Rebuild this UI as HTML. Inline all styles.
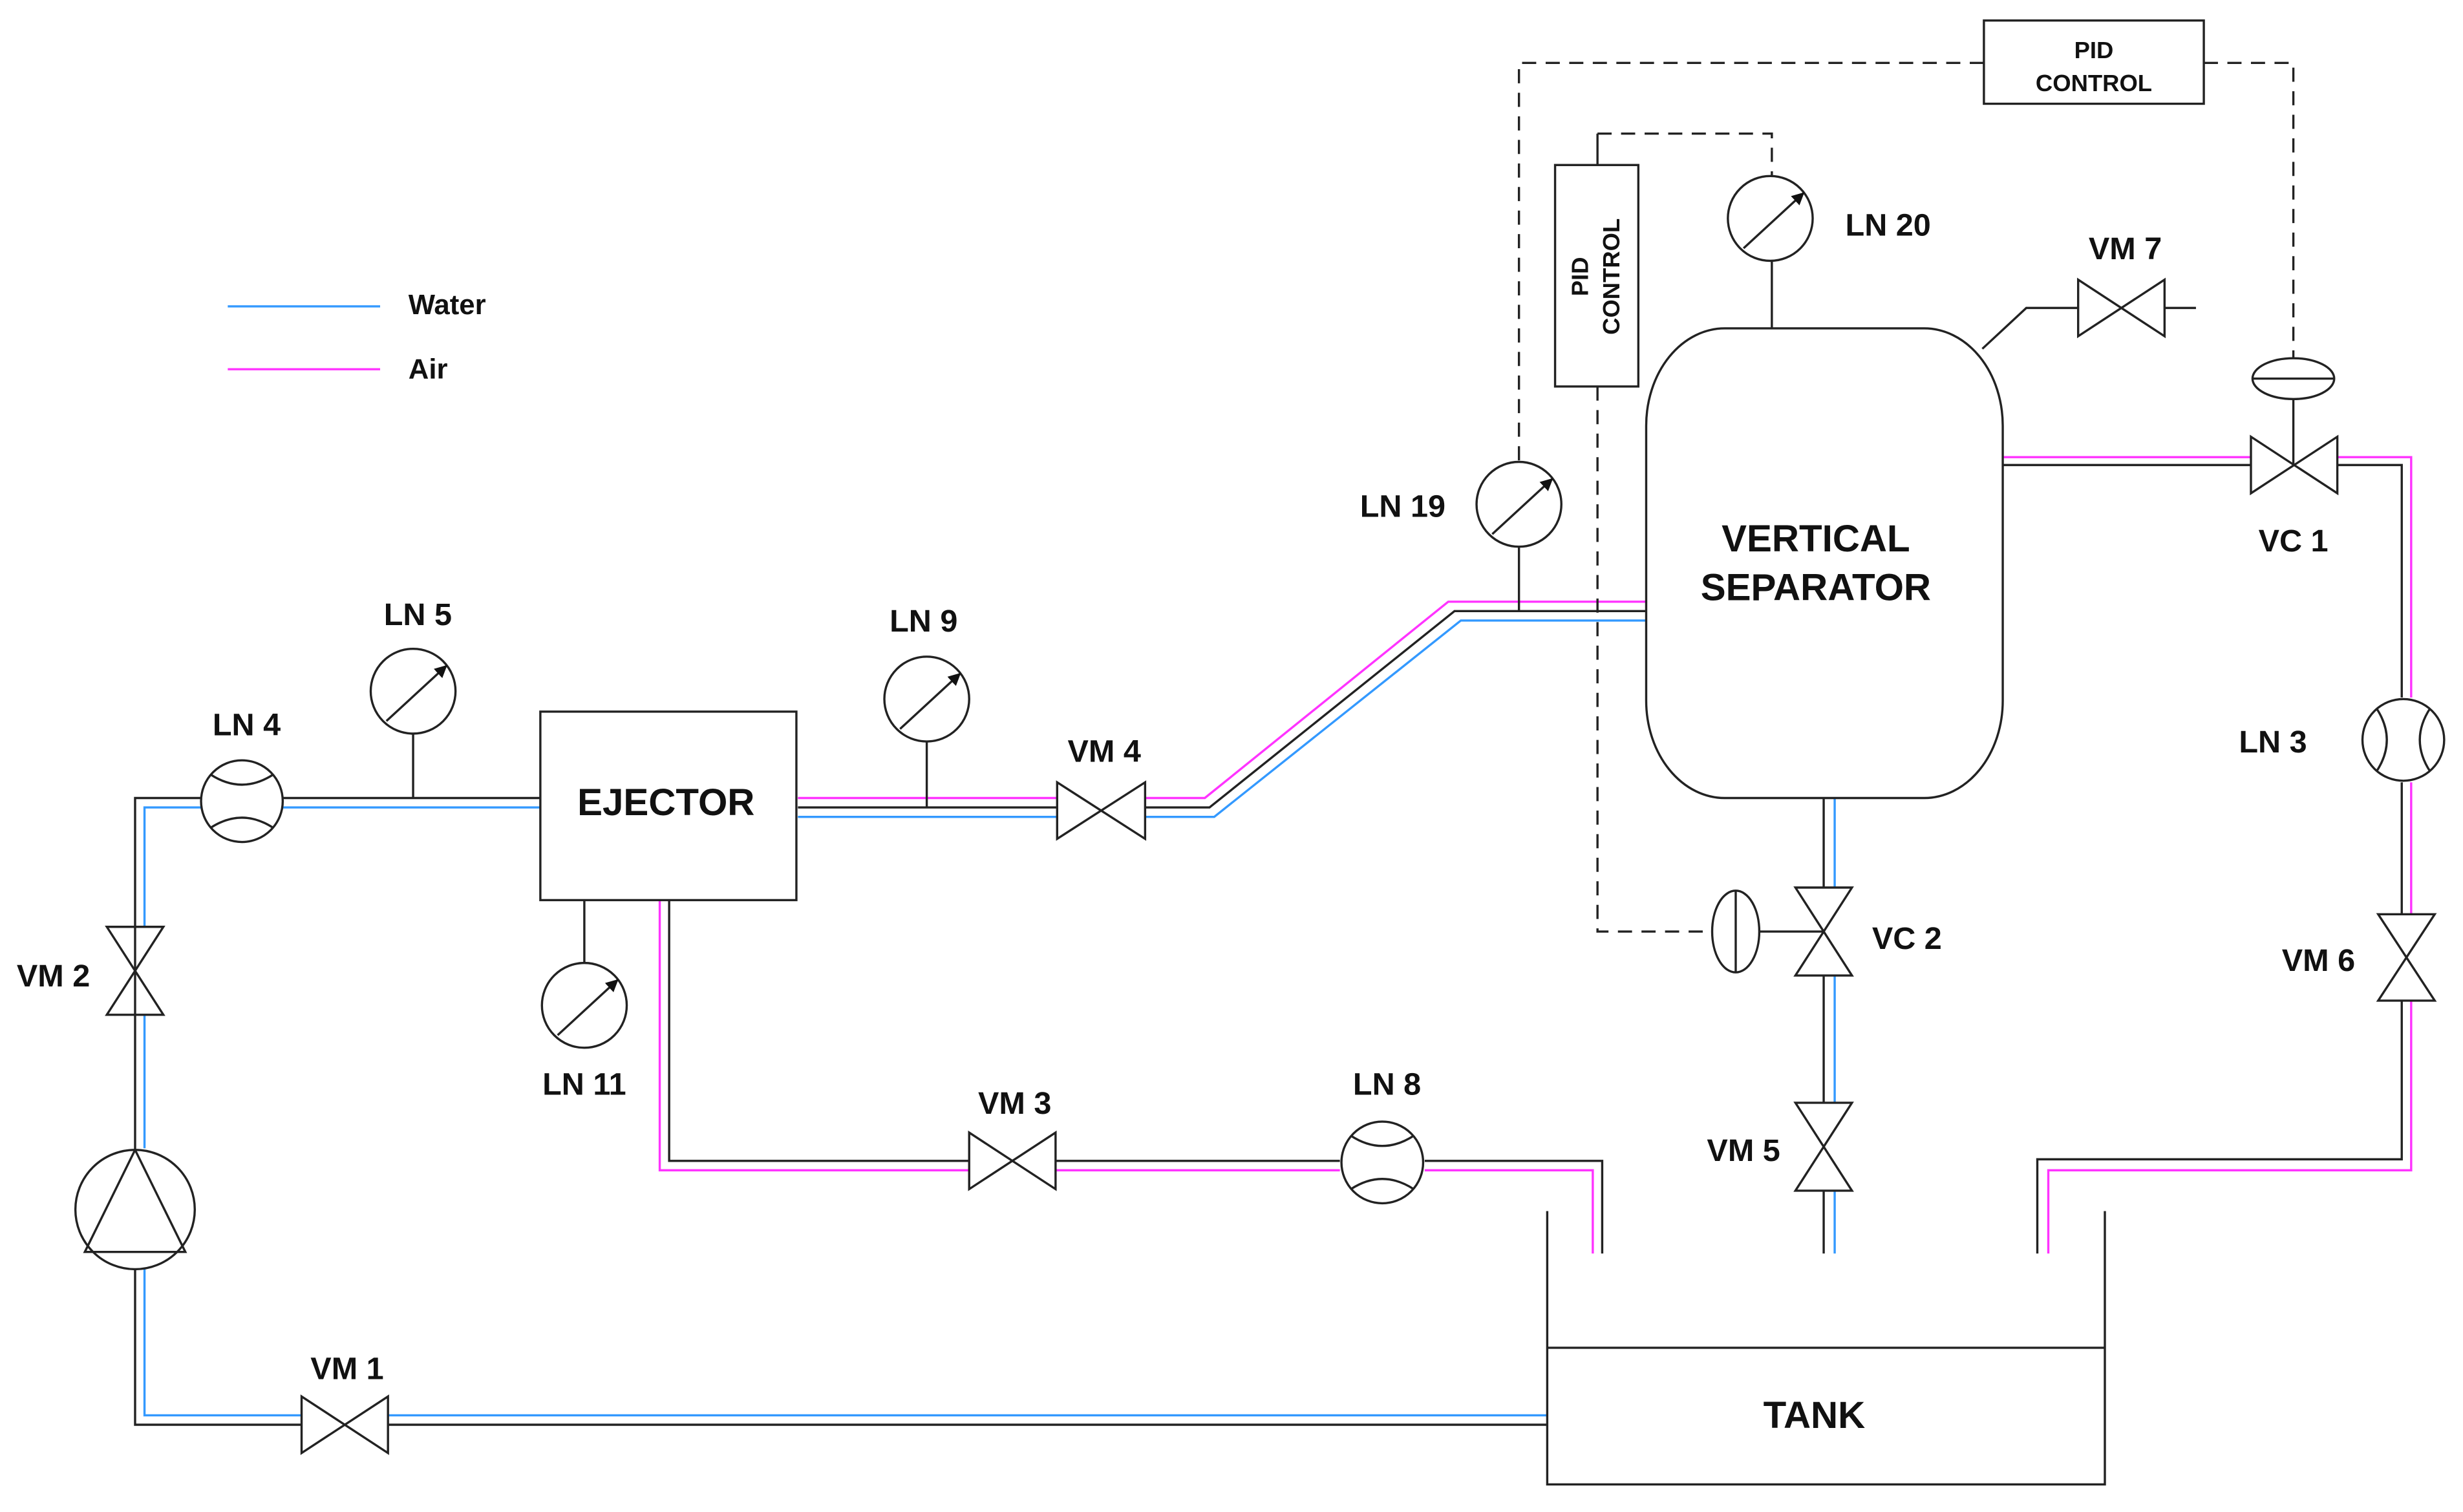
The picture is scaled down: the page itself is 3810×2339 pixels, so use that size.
<!DOCTYPE html>
<html><head><meta charset="utf-8"><style>
html,body{margin:0;padding:0;background:#fff;}
svg{display:block;}
text{font-family:"Liberation Sans",Arial,sans-serif;font-weight:bold;fill:#111;}
</style></head><body>
<svg width="3810" height="2339" viewBox="0 0 1568 962.5" xmlns="http://www.w3.org/2000/svg">
<defs>
<marker id="ah" markerWidth="8" markerHeight="8" refX="7" refY="4" orient="auto" markerUnits="userSpaceOnUse"><path d="M0,0 L8,4 L0,8 z" fill="#111"/></marker>
</defs>
<g fill="none" stroke-width="1.4">
<!-- Legend -->
<line x1="145" y1="195" x2="242" y2="195" stroke="#3399ff"/>
<line x1="145" y1="235" x2="242" y2="235" stroke="#ff33ff"/>

<!-- Left loop black -->
<path d="M128,508 H86 V732 M86,808 V907 H192 M247,907 H985" stroke="#222"/>
<path d="M86,590 V590" stroke="#222"/>
<!-- left loop blue -->
<path d="M128,514 H92 V590 M92,646 V731 M92,808 V901 H192 M247,901 H985" stroke="#3399ff"/>
<path d="M180,508 H344" stroke="#222"/>
<path d="M180,514 H344" stroke="#3399ff"/>

<!-- Ejector right outlet -->
<path d="M508,508 H673 M729,508 H767 L922,383 H1048" stroke="#ff33ff"/>
<path d="M508,514 H673 M729,514 H770 L926,389 H1048" stroke="#222"/>
<path d="M508,520 H673 M729,520 H773 L930,395 H1048" stroke="#3399ff"/>

<!-- Ejector bottom outlet -->
<path d="M426,573 V739 H617 M672,739 H853 M907,739 H1020 V798" stroke="#222"/>
<path d="M420,573 V745 H617 M672,745 H853 M907,745 H1014 V798" stroke="#ff33ff"/>

<!-- separator bottom -->
<path d="M1161,508 V565 M1161,621 V702 M1161,758 V798" stroke="#222"/>
<path d="M1168,508 V565 M1168,621 V702 M1168,758 V798" stroke="#3399ff"/>

<!-- separator right outlet -->
<path d="M1275,296 H1433 M1488,296 H1529 V444 M1529,498 V582 M1529,637 V738 H1297 V798" stroke="#222"/>
<path d="M1275,291 H1433 M1488,291 H1535 V444 M1535,498 V582 M1535,637 V745 H1304 V798" stroke="#ff33ff"/>

<!-- Tank -->
<path d="M985,771 V945 H1340 V771 M985,858 H1340" stroke="#222"/>

<!-- Ejector box -->
<rect x="344" y="453" width="163" height="120" stroke="#222"/>

<!-- Vertical separator -->
<rect x="1048" y="209" width="227" height="299" rx="50" ry="62" stroke="#222"/>

<!-- VM7 line -->
<path d="M1262,222 L1290,196 H1323 M1378,196 H1398" stroke="#222"/>

<!-- valves horizontal: VM1, VM4, VM3, VM7, VC1 -->
<g stroke="#222">
<path d="M192,889 V925 L247,889 V925 Z"/>
<path d="M673,498 V534 L729,498 V534 Z"/>
<path d="M617,721 V757 L672,721 V757 Z"/>
<path d="M1323,178 V214 L1378,178 V214 Z"/>
<path d="M1433,278 V314 L1488,278 V314 Z"/>
<!-- vertical valves: VM2, VC2, VM5, VM6 -->
<path d="M68,590 H104 L68,646 H104 Z"/>
<path d="M1143,565 H1179 L1143,621 H1179 Z"/>
<path d="M1143,702 H1179 L1143,758 H1179 Z"/>
<path d="M1514,582 H1550 L1514,637 H1550 Z"/>
</g>

<!-- VC1 actuator -->
<ellipse cx="1460" cy="241" rx="26" ry="13" stroke="#222"/>
<path d="M1434,241 H1486 M1460,254 V296" stroke="#222"/>
<!-- VC2 actuator -->
<ellipse cx="1105" cy="593" rx="15" ry="26" stroke="#222"/>
<path d="M1105,567 V619 M1120,593 H1161" stroke="#222"/>

<!-- Pump -->
<circle cx="86" cy="770" r="38" stroke="#222"/>
<path d="M86,732 L54,797 H118 Z" stroke="#222"/>

<!-- Flow meters -->
<g stroke="#222">
<circle cx="154" cy="510" r="26"/>
<path d="M134,493 Q154,506 174,493 M134,527 Q154,514 174,527"/>
<circle cx="880" cy="740" r="26"/>
<path d="M860,723 Q880,736 900,723 M860,757 Q880,744 900,757"/>
<circle cx="1530" cy="471" r="26"/>
<path d="M1513,451 Q1526,471 1513,491 M1547,451 Q1534,471 1547,491"/>
</g>

<!-- Gauges -->
<g stroke="#222">
<circle cx="263" cy="440" r="27"/><path d="M263,467 V508"/>
<line x1="246" y1="459" x2="284" y2="424" marker-end="url(#ah)"/>
<circle cx="590" cy="445" r="27"/><path d="M590,472 V514"/>
<line x1="573" y1="464" x2="611" y2="429" marker-end="url(#ah)"/>
<circle cx="372" cy="640" r="27"/><path d="M372,573 V613"/>
<line x1="355" y1="659" x2="393" y2="624" marker-end="url(#ah)"/>
<circle cx="967" cy="321" r="27"/><path d="M967,348 V389"/>
<line x1="950" y1="340" x2="988" y2="305" marker-end="url(#ah)"/>
<circle cx="1127" cy="139" r="27"/><path d="M1128,166 V209"/>
<line x1="1110" y1="158" x2="1148" y2="123" marker-end="url(#ah)"/>
</g>

<!-- PID boxes -->
<rect x="1263" y="13" width="140" height="53" stroke="#222"/>
<rect x="990" y="105" width="53" height="141" stroke="#222"/>
<path d="M1017,105 V85" stroke="#222"/>

<!-- Dashed control lines -->
<g stroke="#222" stroke-dasharray="9,6">
<path d="M1263,40 H967 V294"/>
<path d="M1403,40 H1460 V228"/>
<path d="M1017,85 H1128 V112"/>
<path d="M1017,246 V593 H1090"/>
</g>
</g>

<!-- Text -->
<text x="260" y="200" font-size="18">Water</text>
<text x="260" y="241" font-size="18">Air</text>
<g font-size="20" text-anchor="middle">
<text x="157" y="468">LN 4</text>
<text x="266" y="398">LN 5</text>
<text x="588" y="402">LN 9</text>
<text x="372" y="697">LN 11</text>
<text x="703" y="485">VM 4</text>
<text x="646" y="709">VM 3</text>
<text x="883" y="697">LN 8</text>
<text x="34" y="628">VM 2</text>
<text x="221" y="878">VM 1</text>
<text x="893" y="329">LN 19</text>
<text x="1202" y="150">LN 20</text>
<text x="1353" y="165">VM 7</text>
<text x="1460" y="351">VC 1</text>
<text x="1447" y="479">LN 3</text>
<text x="1214" y="604">VC 2</text>
<text x="1476" y="618">VM 6</text>
<text x="1110" y="739">VM 5</text>
</g>
<g font-size="24" text-anchor="middle">
<text x="424" y="519">EJECTOR</text>
<text x="1156" y="351">VERTICAL</text>
<text x="1156" y="382">SEPARATOR</text>
<text x="1155" y="909">TANK</text>
</g>
<g font-size="15" text-anchor="middle" font-weight="normal">
<text x="1333" y="37">PID</text>
<text x="1333" y="58">CONTROL</text>
<g transform="translate(1016,176) rotate(-90)">
<text x="0" y="-5">PID</text>
<text x="0" y="15">CONTROL</text>
</g>
</g>
</svg>
</body></html>
